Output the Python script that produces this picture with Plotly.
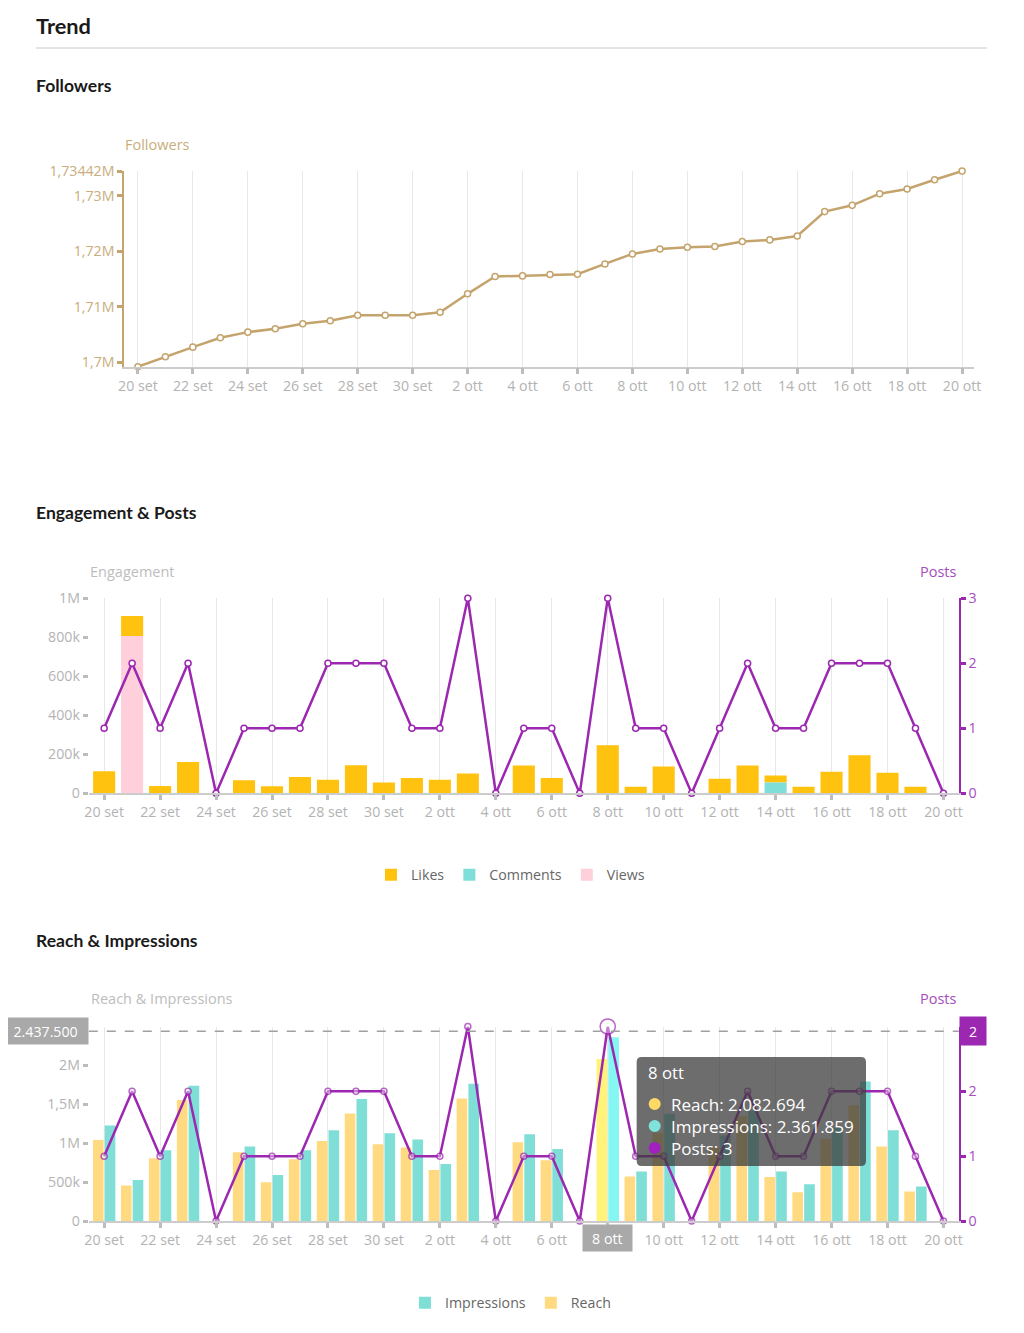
import plotly.graph_objects as go

# ---------------- data ----------------
days = ["20 set", "21 set", "22 set", "23 set", "24 set", "25 set", "26 set", "27 set",
        "28 set", "29 set", "30 set", "1 ott", "2 ott", "3 ott", "4 ott", "5 ott", "6 ott",
        "7 ott", "8 ott", "9 ott", "10 ott", "11 ott", "12 ott", "13 ott", "14 ott", "15 ott",
        "16 ott", "17 ott", "18 ott", "19 ott", "20 ott"]

followers = [1699230, 1701020, 1702750, 1704430, 1705450, 1706050, 1706950, 1707490,
             1708500, 1708500, 1708500, 1709040, 1712340, 1715450, 1715570, 1715810,
             1715870, 1717720, 1719520, 1720420, 1720720, 1720840, 1721740, 1722040,
             1722750, 1727130, 1728260, 1730360, 1731200, 1732870, 1734420]
followers_ticks = [1700000, 1710000, 1720000, 1730000, 1734420]
followers_ticktext = ["1,7M", "1,71M", "1,72M", "1,73M", "1,73442M"]

likes = [113000, 102000, 38000, 161000, 0, 67000, 36000, 84000, 70000, 144000, 55000,
         79000, 70000, 101000, 0, 142000, 79000, 0, 246000, 34000, 137000, 0, 75000,
         142000, 36000, 34000, 111000, 195000, 106000, 34000, 0]
comments = [0] * 24 + [55000] + [0] * 6
views = [0, 807000] + [0] * 29
posts = [1, 2, 1, 2, 0, 1, 1, 1, 2, 2, 2, 1, 1, 3, 0, 1, 1, 0, 3, 1, 1, 0, 1, 2, 1, 1,
         2, 2, 2, 1, 0]
eng_ticks = [0, 200000, 400000, 600000, 800000, 1000000]
eng_ticktext = ["0", "200k", "400k", "600k", "800k", "1M"]

reach = [1040000, 455000, 807000, 1554000, 0, 884000, 498000, 794000, 1030000, 1382000,
         987000, 944000, 657000, 1575000, 0, 1013000, 781000, 0, 2082694, 571000,
         1130000, 0, 950000, 1350000, 567000, 369000, 1056000, 1489000, 957000, 378000, 0]
impressions = [1227000, 528000, 910000, 1738000, 0, 957000, 592000, 910000, 1167000,
               1567000, 1129000, 1047000, 734000, 1764000, 0, 1116000, 927000, 0, 2361859,
               635000, 1380000, 0, 1100000, 1420000, 635000, 472000, 1200000, 1794000,
               1167000, 442000, 0]
ri_ticks = [0, 500000, 1000000, 1500000, 2000000]
ri_ticktext = ["0", "500k", "1M", "1,5M", "2M"]

hover_day = "8 ott"
spike_value = 2437500
spike_label = "2.437.500"
spike_right_label = "2"

# ---------------- styling ----------------
# map reference-picture pixels to figure paper fractions
W, H = 1008, 1320
A, CX, CY = 0.9856, 14.3, 18.0
def X(px): return ((px - CX) / A) / W
def Y(py): return 1 - ((py - CY) / A) / H
def S(v): return v / A

TAN = "#c4a46c"
TAN_TXT = "#c9ad7c"
PURPLE = "#9c27b0"
PURPLE_TXT = "#a64dc0"
GRAY_TXT = "#b3b3b3"
GRID = "#e8e8e8"
LIKES_C = "#ffc20e"
COMM_C = "#7fdfd8"
VIEWS_C = "#ffd0dc"
REACH_C = "#ffda80"
IMP_C = "#7fded6"
REACH_HI = "#fff37a"
IMP_HI = "#85f6f1"
FS = S(14)

hi = days.index(hover_day)
reach_colors = [REACH_HI if i == hi else REACH_C for i in range(len(days))]
imp_colors = [IMP_HI if i == hi else IMP_C for i in range(len(days))]
post_sizes = [S(15) if i == hi else S(6) for i in range(len(days))]

fig = go.Figure()

# Chart 1: followers
fig.add_trace(go.Scatter(
    x=days, y=followers, mode="lines+markers", xaxis="x", yaxis="y",
    line=dict(color=TAN, width=2.5),
    marker=dict(size=S(6), color="white", line=dict(color=TAN, width=1.5)),
    cliponaxis=False, showlegend=False, hoverinfo="skip"))

# Chart 2: engagement (manually stacked)
base_comments = list(views)
base_likes = [v + c for v, c in zip(views, comments)]
fig.add_trace(go.Bar(x=days, y=likes, base=base_likes, name="Likes", width=0.79,
                     marker=dict(color=LIKES_C, line=dict(width=0)),
                     xaxis="x2", yaxis="y2", legend="legend"))
fig.add_trace(go.Bar(x=days, y=comments, base=base_comments, name="Comments", width=0.79,
                     marker=dict(color=COMM_C, line=dict(width=0)),
                     xaxis="x2", yaxis="y2", legend="legend"))
fig.add_trace(go.Bar(x=days, y=views, name="Views", width=0.79,
                     marker=dict(color=VIEWS_C, line=dict(width=0)),
                     xaxis="x2", yaxis="y2", legend="legend"))
fig.add_trace(go.Scatter(
    x=days, y=posts, mode="lines+markers", xaxis="x2", yaxis="y3",
    line=dict(color=PURPLE, width=2.5),
    marker=dict(size=S(6), color="white", line=dict(color=PURPLE, width=1.5)),
    cliponaxis=False, showlegend=False))

# Chart 3: reach & impressions
fig.add_trace(go.Bar(x=days, y=impressions, name="Impressions", offset=0.02, width=0.38,
                     marker=dict(color=imp_colors, line=dict(width=0)),
                     xaxis="x3", yaxis="y4", legend="legend2"))
fig.add_trace(go.Bar(x=days, y=reach, name="Reach", offset=-0.40, width=0.38,
                     marker=dict(color=reach_colors, line=dict(width=0)),
                     xaxis="x3", yaxis="y4", legend="legend2"))
fig.add_trace(go.Scatter(
    x=days, y=posts, mode="lines+markers", xaxis="x3", yaxis="y5",
    line=dict(color=PURPLE, width=2.5),
    marker=dict(size=post_sizes, color="rgba(255,255,255,0.6)", line=dict(color=PURPLE, width=1.5)),
    cliponaxis=False, showlegend=False))

tick_days = days[::2]
def xaxis(dom, rng, anchor):
    return dict(type="category", categoryorder="array", categoryarray=days,
                domain=dom, range=rng, anchor=anchor,
                tickmode="array", tickvals=tick_days, ticktext=tick_days,
                showgrid=True, gridcolor=GRID, gridwidth=1,
                showline=True, linecolor="#cccccc", linewidth=1.5,
                ticks="outside", ticklen=S(5), tickwidth=3, tickcolor="#bdbdbd",
                tickfont=dict(size=FS, color=GRAY_TXT), zeroline=False, fixedrange=True)

x23 = [X(89), X(957.7)]
rng23 = [-0.548, 30.55]

fig.update_layout(
    width=W, height=H, margin=dict(l=0, r=0, t=0, b=0),
    paper_bgcolor="white", plot_bgcolor="white",
    font=dict(family="Open Sans", size=FS, color="#666"),
    barmode="overlay",
    xaxis=xaxis([X(124.3), X(973)], [-0.5, 30.44], "y"),
    yaxis=dict(domain=[Y(366.7), Y(171.1)], range=[min(followers), max(followers)],
               anchor="x", tickmode="array", tickvals=followers_ticks, ticktext=followers_ticktext,
               showline=True, linecolor=TAN, linewidth=1.5, showgrid=False, zeroline=False,
               ticks="outside", ticklen=S(5), tickwidth=3, tickcolor=TAN,
               tickfont=dict(size=FS, color=TAN_TXT)),
    xaxis2=xaxis(x23, rng23, "y2"),
    yaxis2=dict(domain=[Y(793.3), Y(598.3)], range=[0, 1000000], anchor="x2",
                tickmode="array", tickvals=eng_ticks, ticktext=eng_ticktext,
                showline=False, showgrid=False, zeroline=False,
                ticks="outside", ticklen=S(5), tickwidth=3, tickcolor="#bdbdbd",
                tickfont=dict(size=FS, color=GRAY_TXT)),
    yaxis3=dict(overlaying="y2", side="right", anchor="x2", range=[0, 3],
                tickmode="array", tickvals=[0, 1, 2, 3],
                showline=True, linecolor=PURPLE, linewidth=1.5, showgrid=False, zeroline=False,
                ticks="outside", ticklen=S(5), tickwidth=3, tickcolor=PURPLE,
                tickfont=dict(size=FS, color=PURPLE_TXT)),
    xaxis3=xaxis(x23, rng23, "y4"),
    yaxis4=dict(domain=[Y(1221), Y(1026.5)], range=[0, 2500000], anchor="x3",
                tickmode="array", tickvals=ri_ticks, ticktext=ri_ticktext,
                showline=False, showgrid=False, zeroline=False,
                ticks="outside", ticklen=S(5), tickwidth=3, tickcolor="#bdbdbd",
                tickfont=dict(size=FS, color=GRAY_TXT)),
    yaxis5=dict(overlaying="y4", side="right", anchor="x3", range=[0, 3],
                tickmode="array", tickvals=[0, 1, 2],
                showline=True, linecolor=PURPLE, linewidth=1.5, showgrid=False, zeroline=False,
                ticks="outside", ticklen=S(5), tickwidth=3, tickcolor=PURPLE,
                tickfont=dict(size=FS, color=PURPLE_TXT)),
    legend=dict(orientation="h", x=X(510), xanchor="center", y=Y(875), yanchor="middle",
                font=dict(size=FS, color="#666"), bgcolor="rgba(0,0,0,0)", itemwidth=30),
    legend2=dict(orientation="h", x=X(510), xanchor="center", y=Y(1303), yanchor="middle",
                 font=dict(size=FS, color="#666"), bgcolor="rgba(0,0,0,0)", itemwidth=30),
)

# tooltip rounded rect
tx0, tx1, ty0, ty1 = 636, 865, 1057, 1166
r = 5
def P(px, py): return f"{X(px)},{Y(py)}"
path = (f"M {P(tx0 + r, ty0)} L {P(tx1 - r, ty0)} Q {P(tx1, ty0)} {P(tx1, ty0 + r)} "
        f"L {P(tx1, ty1 - r)} Q {P(tx1, ty1)} {P(tx1 - r, ty1)} "
        f"L {P(tx0 + r, ty1)} Q {P(tx0, ty1)} {P(tx0, ty1 - r)} "
        f"L {P(tx0, ty0 + r)} Q {P(tx0, ty0)} {P(tx0 + r, ty0)} Z")

shapes = [
    dict(type="line", xref="paper", yref="paper", x0=X(36), x1=X(986), y0=Y(48), y1=Y(48),
         line=dict(color="#c8c8c8", width=1)),
    dict(type="line", xref="paper", yref="y4", x0=x23[0], x1=x23[1], y0=spike_value, y1=spike_value,
         line=dict(color="#a0a0a0", width=1.5, dash="dash"), layer="above"),
    dict(type="path", xref="paper", yref="paper", path=path,
         fillcolor="rgba(60,60,60,0.75)", line=dict(width=0), layer="above"),
]

ann = []
def text(px, py, s, size=14, color="#666", xanchor="left", bold=False, family="Open Sans"):
    ann.append(dict(xref="paper", yref="paper", x=X(px), y=Y(py), text=s, showarrow=False,
                    xanchor=xanchor, yanchor="middle",
                    font=dict(size=S(size), color=color, family=family,
                              weight="bold" if bold else "normal")))

text(34, 25, "Trend", size=21.5, color="#1a1a1a", bold=True, family="Lato")
text(34, 85, "Followers", size=17.3, color="#1a1a1a", bold=True, family="Lato")
text(34, 512, "Engagement & Posts", size=17.3, color="#1a1a1a", bold=True, family="Lato")
text(34, 940, "Reach & Impressions", size=17.3, color="#1a1a1a", bold=True, family="Lato")
text(123, 144, "Followers", size=14.3, color=TAN_TXT)
text(88, 571, "Engagement", size=14.3, color="#bdbdbd")
text(958, 571, "Posts", size=14.3, color=PURPLE_TXT, xanchor="right")
text(89, 998, "Reach & Impressions", size=14.3, color="#bdbdbd")
text(958, 998, "Posts", size=14.3, color=PURPLE_TXT, xanchor="right")

# tooltip text + bullets
def fmt(v): return f"{v:,}".replace(",", ".")
text(645, 1072, hover_day, size=16.5, color="white")
rows = [("#ffd966", f"Reach: {fmt(reach[hi])}", 1104),
        ("#7fe3dc", f"Impressions: {fmt(impressions[hi])}", 1126),
        ("#a020c0", f"Posts: {posts[hi]}", 1148)]
for col, s, py in rows:
    shapes.append(dict(type="circle", xref="paper", yref="paper",
                       x0=X(648), x1=X(660), y0=Y(py + 6), y1=Y(py - 6),
                       fillcolor=col, line=dict(width=0), layer="above"))
    text(668, py, s, size=16.8, color="white")

# hover labels
def box(px, py, s, w, h, bg):
    ann.append(dict(xref="paper", yref="paper", x=X(px), y=Y(py), text=s, showarrow=False,
                    xanchor="center", yanchor="middle", width=S(w), height=S(h), bgcolor=bg,
                    font=dict(size=FS, color="white", family="Open Sans")))
box(46, 1030.5, spike_label, 82, 24, "#a9a9a9")
box(607, 1238, hover_day, 46, 24, "#a9a9a9")
box(972, 1031, spike_right_label, 24, 26, PURPLE)

fig.update_layout(shapes=shapes, annotations=ann)
fig.write_html("out.html")
